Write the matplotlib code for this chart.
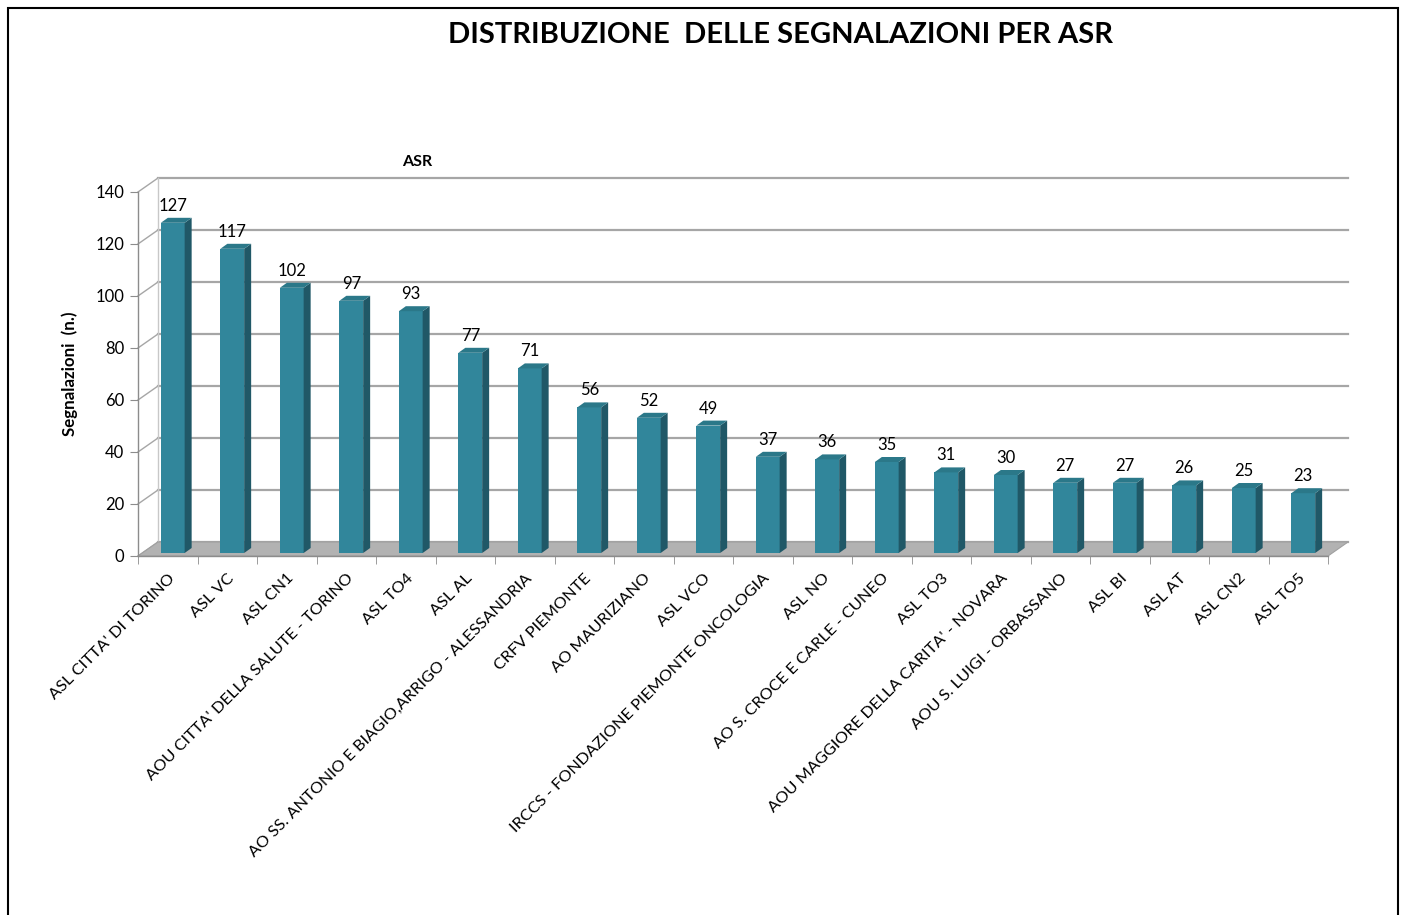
import matplotlib.pyplot as plt
from matplotlib.patches import Polygon, Rectangle

plt.rcParams['font.family'] = ['Lato', 'DejaVu Sans']

asr = ["ASL CITTA' DI TORINO", "ASL VC", "ASL CN1", "AOU CITTA' DELLA SALUTE - TORINO",
       "ASL TO4", "ASL AL", "AO SS. ANTONIO E BIAGIO,ARRIGO - ALESSANDRIA", "CRFV PIEMONTE",
       "AO MAURIZIANO", "ASL VCO", "IRCCS - FONDAZIONE PIEMONTE ONCOLOGIA", "ASL NO",
       "AO S. CROCE E CARLE - CUNEO", "ASL TO3", "AOU MAGGIORE DELLA CARITA' - NOVARA",
       "AOU S. LUIGI - ORBASSANO", "ASL BI", "ASL AT", "ASL CN2", "ASL TO5"]
segnalazioni = [127, 117, 102, 97, 93, 77, 71, 56, 52, 49, 37, 36, 35, 31, 30, 27, 27, 26, 25, 23]
yticks = [0, 20, 40, 60, 80, 100, 120, 140]

W, H = 1405, 915
fig = plt.figure(figsize=(W / 100, H / 100), dpi=100)
ax = fig.add_axes([138 / W, 1 - 556 / H, 1190 / W, 364 / H])
n = len(asr)
ax.set_xlim(0, n)
ax.set_ylim(0, 140)

# pixel sizes in data units
px = n / ax.bbox.width
py = 140 / ax.bbox.height

grid_col = '#A6A6A6'
front = '#31869B'
side = '#205867'
top = '#2B7889'

# depth of the "3D" box
dx, dy = 20 * px, 14 * py

floor = Polygon([(0, 0), (n, 0), (n + dx, dy), (dx, dy)], closed=True,
                facecolor='#B2B2B2', edgecolor='#A0A0A0', lw=0.8, clip_on=False, zorder=1)
ax.add_patch(floor)

for v in yticks:
    ax.plot([dx, n + dx], [v + dy, v + dy], color=grid_col, lw=1.6, clip_on=False, zorder=0.5)
    ax.plot([0, dx], [v, v + dy], color=grid_col, lw=1.0, clip_on=False, zorder=0.5)
ax.plot([dx, dx], [dy, 140 + dy], color='#C8C8C8', lw=1.0, clip_on=False, zorder=0.5)

# bars
bw = 0.4
shift = 5 * px
b0 = 3 * py
sx, sy = 7 * px, 5 * py
for i, v in enumerate(segnalazioni):
    x0 = i + 0.5 + shift - bw / 2
    x1 = x0 + bw
    ax.add_patch(Rectangle((x0, b0), bw, v, facecolor=front, edgecolor='none', zorder=3))
    ax.add_patch(Polygon([(x1, b0), (x1 + sx, b0 + sy), (x1 + sx, b0 + v + sy), (x1, b0 + v)],
                         closed=True, facecolor=side, edgecolor='none', zorder=3, clip_on=False))
    ax.add_patch(Polygon([(x0, b0 + v), (x1, b0 + v), (x1 + sx, b0 + v + sy), (x0 + sx, b0 + v + sy)],
                         closed=True, facecolor=top, edgecolor='none', zorder=3, clip_on=False))
    ax.text(i + 0.5 + shift, b0 + v + sy + 4 * py, str(v), ha='center', va='bottom',
            fontsize=12, zorder=4)

for s in ['top', 'right']:
    ax.spines[s].set_visible(False)
for s in ['left', 'bottom']:
    ax.spines[s].set_color('#8C8C8C')
    ax.spines[s].set_linewidth(1.0)

ax.set_yticks(yticks)
ax.tick_params(axis='y', direction='out', length=6, color='#8C8C8C', labelsize=12, pad=4)
ax.set_xticks([i + 0.5 for i in range(n)])
ax.set_xticks(range(n + 1), minor=True)
ax.set_xticklabels(asr, rotation=45, ha='right', va='top', rotation_mode='anchor', fontsize=11.8)
ax.tick_params(axis='x', which='major', length=0, pad=11)
ax.tick_params(axis='x', which='minor', length=6, color='#8C8C8C')

ax.set_ylabel('Segnalazioni  (n.)', fontsize=12.2, fontweight='bold')
ax.yaxis.set_label_coords((78 - 138) / 1190, 0.5)

fig.text(781 / W, 1 - 35 / H, 'DISTRIBUZIONE  DELLE SEGNALAZIONI PER ASR', ha='center', va='center',
         fontsize=21, fontweight='bold')
fig.text(417 / W, 1 - 162 / H, 'ASR', ha='center', va='center', fontsize=11.5, fontweight='bold')

fig.patches.append(Rectangle((8 / W, -0.01), 1390 / W, (907 / H) + 0.01, transform=fig.transFigure,
                             fill=False, edgecolor='black', lw=1.5))

fig.savefig('out.png', dpi=100)
